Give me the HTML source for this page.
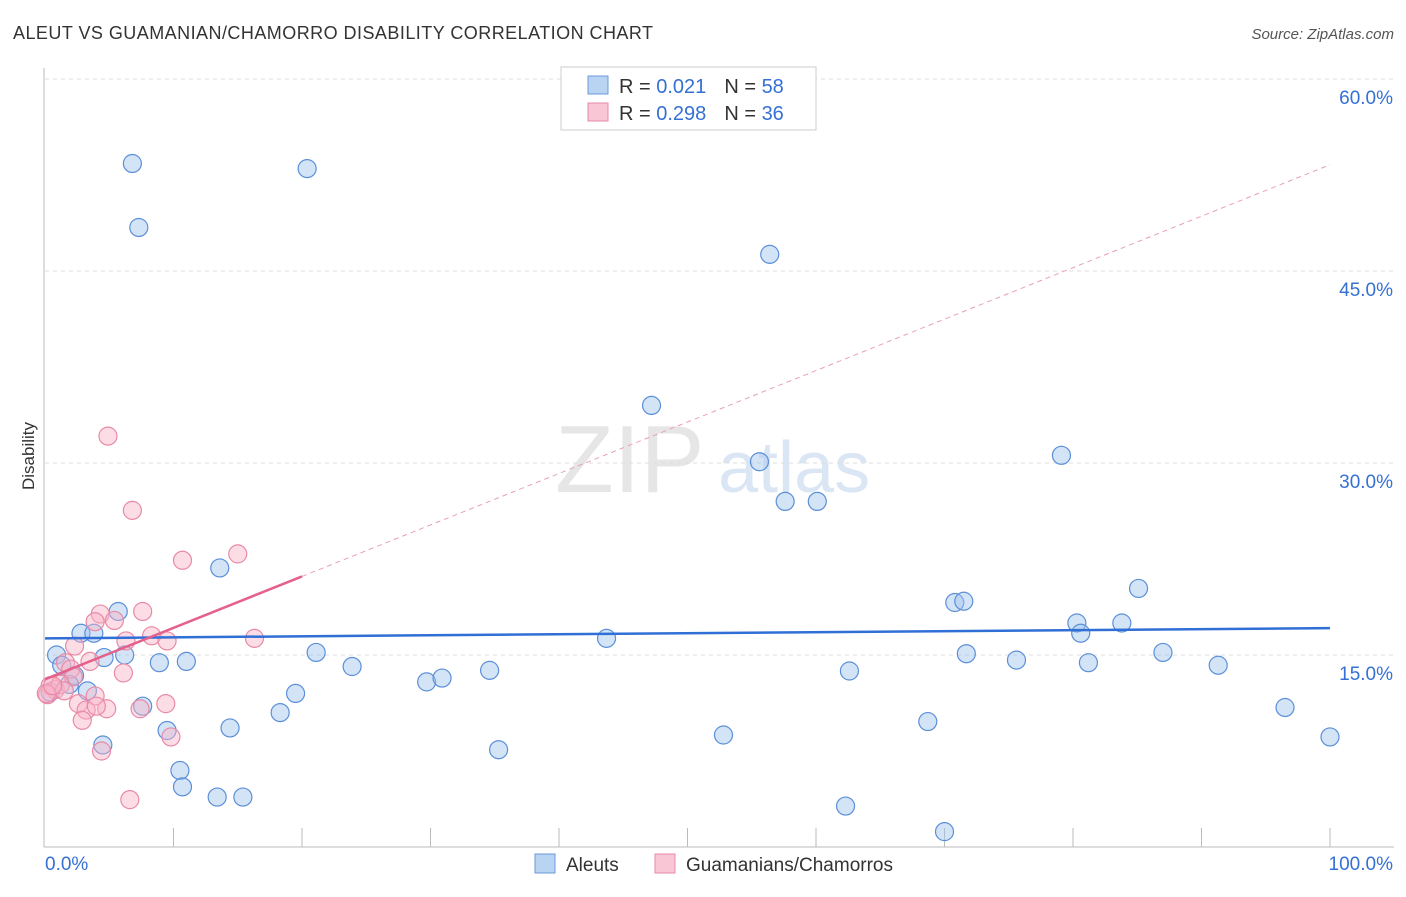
<!DOCTYPE html>
<html><head><meta charset="utf-8"><style>
body{margin:0;background:#fff;font-family:"Liberation Sans",sans-serif;}
svg text{font-family:"Liberation Sans",sans-serif;}
</style></head><body>
<svg id="chart" width="1406" height="892">
<text x="13" y="39" font-size="18" fill="#333" textLength="640">ALEUT VS GUAMANIAN/CHAMORRO DISABILITY CORRELATION CHART</text>
<text x="1394" y="39" font-size="15" fill="#555" font-style="italic" text-anchor="end">Source: ZipAtlas.com</text>
<text x="555" y="492" font-size="96" fill="#e6e6e6" font-family="Liberation Serif">ZIP</text>
<text x="718" y="492" font-size="72" fill="#dbe6f5">atlas</text>
<g id="grid"></g><g id="axes"></g><g id="pts"></g><g id="lines"></g>
<text x="34" y="456" font-size="17" fill="#333" transform="rotate(-90 34 456)" text-anchor="middle">Disability</text>
<g>
<rect x="561" y="67" width="255" height="63" fill="#fff" stroke="#ccc"/>
<rect x="588" y="76" width="20" height="18" fill="#b9d3f3" stroke="#6b9bd8"/>
<rect x="588" y="103" width="20" height="18" fill="#f9c6d5" stroke="#e88aa6"/>
<text x="619" y="93" font-size="20" fill="#333">R = <tspan fill="#3570d4">0.021</tspan><tspan dx="18">N = </tspan><tspan fill="#3570d4">58</tspan></text>
<text x="619" y="120" font-size="20" fill="#333">R = <tspan fill="#3570d4">0.298</tspan><tspan dx="18">N = </tspan><tspan fill="#3570d4">36</tspan></text>
</g>
<g>
<rect x="535" y="854" width="20" height="19" fill="#b9d3f3" stroke="#6b9bd8"/>
<text x="566" y="871" font-size="19" fill="#333">Aleuts</text>
<rect x="655" y="854" width="20" height="19" fill="#f9c6d5" stroke="#e88aa6"/>
<text x="686" y="871" font-size="19" fill="#333">Guamanians/Chamorros</text>
</g>
</svg>
<script>
const ns="http://www.w3.org/2000/svg";
const yTicks=[15,30,45,60];
const xTickLabels=["0.0%","100.0%"];
const aleutX=[6.8,7.3,20.4,56.4,47.2,55.6,79.1,57.6,60.1,13.6,85.1,70.8,71.5,80.3,80.6,83.8,43.7,71.7,87.0,5.7,2.8,3.8,0.9,1.3,2.3,1.9,4.6,6.2,8.9,11.0,21.1,23.9,34.6,62.6,75.6,81.2,91.3,29.7,30.9,19.5,3.3,7.6,18.3,96.5,68.7,9.5,14.4,52.8,35.3,100,4.5,10.5,10.7,13.4,15.4,62.3,70.0,0.4];
const aleutY=[53.4,48.4,53.0,46.3,34.5,30.1,30.6,27.0,27.0,21.8,20.2,19.1,19.2,17.5,16.7,17.5,16.3,15.1,15.2,18.4,16.7,16.7,15.0,14.2,13.4,12.7,14.8,15.0,14.4,14.5,15.2,14.1,13.8,13.75,14.6,14.4,14.2,12.9,13.2,12.0,12.2,11.0,10.5,10.9,9.8,9.1,9.3,8.75,7.6,8.6,7.97,5.98,4.7,3.9,3.9,3.2,1.2,12.1];
const guamX=[4.9,6.8,15.0,10.7,7.6,4.3,3.9,5.4,6.3,8.3,9.5,16.3,2.3,3.5,1.6,2.0,2.2,0.4,0.8,1.2,0.2,1.5,3.9,2.6,3.2,4.8,7.4,9.4,2.9,6.1,4.4,9.8,6.6,4.0,0.1,0.6];
const guamY=[32.1,26.3,22.9,22.4,18.4,18.2,17.6,17.7,16.1,16.5,16.1,16.3,15.7,14.5,14.4,13.9,13.3,12.6,12.3,12.7,11.9,12.2,11.8,11.2,10.7,10.8,10.8,11.2,9.9,13.6,7.5,8.6,3.7,11.0,12.0,12.6];
const aleutLine=[16.3,17.1];
const guamLine=[13.1,53.3];
const X0=45,X1=1330,Y0=847,YS=12.8;
const sx=v=>X0+(X1-X0)*v/100, sy=v=>Y0-v*YS;
function mk(tag,attrs,parent){const e=document.createElementNS(ns,tag);for(const k in attrs)e.setAttribute(k,attrs[k]);document.getElementById(parent).appendChild(e);return e;}
yTicks.forEach(t=>{
 const l=mk('line',{x1:45,x2:1394,y1:sy(t),y2:sy(t),stroke:'#ddd','stroke-dasharray':'4,4'},'grid');
 
 
 const tx=mk('text',{x:1393,y:sy(t)+25,'font-size':19,fill:'#3570d4','text-anchor':'end'},'axes');
 tx.textContent=t.toFixed(1)+'%';
 
 
});
const ax=mk('line',{x1:44,x2:44,y1:68,y2:847,stroke:'#bbb'},'axes');


const bx=mk('line',{x1:44,x2:1394,y1:847,y2:847,stroke:'#bbb'},'axes');


for(let i=1;i<=10;i++){const t=mk('line',{x1:sx(i*10),x2:sx(i*10),y1:828,y2:847,stroke:'#bbb'},'axes');
 
 }
xTickLabels.forEach((s,i)=>{const t=mk('text',{x:i?1393:45,y:870,'font-size':19,fill:'#3570d4','text-anchor':i?'end':'start'},'axes');t.textContent=s;
 
 });
aleutX.forEach((x,i)=>{const c=mk('circle',{cx:sx(x),cy:sy(aleutY[i]),r:9,fill:'rgba(160,195,238,0.45)',stroke:'#5b8fd8','stroke-width':1.2},'pts');
 
 });
guamX.forEach((x,i)=>{const c=mk('circle',{cx:sx(x),cy:sy(guamY[i]),r:9,fill:'rgba(248,180,200,0.45)',stroke:'#e88aa6','stroke-width':1.2},'pts');
 
 });
const bl=mk('line',{x1:sx(0),y1:sy(aleutLine[0]),x2:sx(100),y2:sy(aleutLine[1]),stroke:'#2f6fd6','stroke-width':2.5},'lines');


const gy20=guamLine[0]+(guamLine[1]-guamLine[0])*0.2;
const gd=mk('line',{x1:sx(20),y1:sy(gy20),x2:sx(100),y2:sy(guamLine[1]),stroke:'#e8a0b5','stroke-width':1,'stroke-dasharray':'5,4'},'lines');


const gl=mk('line',{x1:sx(0),y1:sy(guamLine[0]),x2:sx(20),y2:sy(gy20),stroke:'#e5608a','stroke-width':2.5},'lines');


</script>
</body></html>
